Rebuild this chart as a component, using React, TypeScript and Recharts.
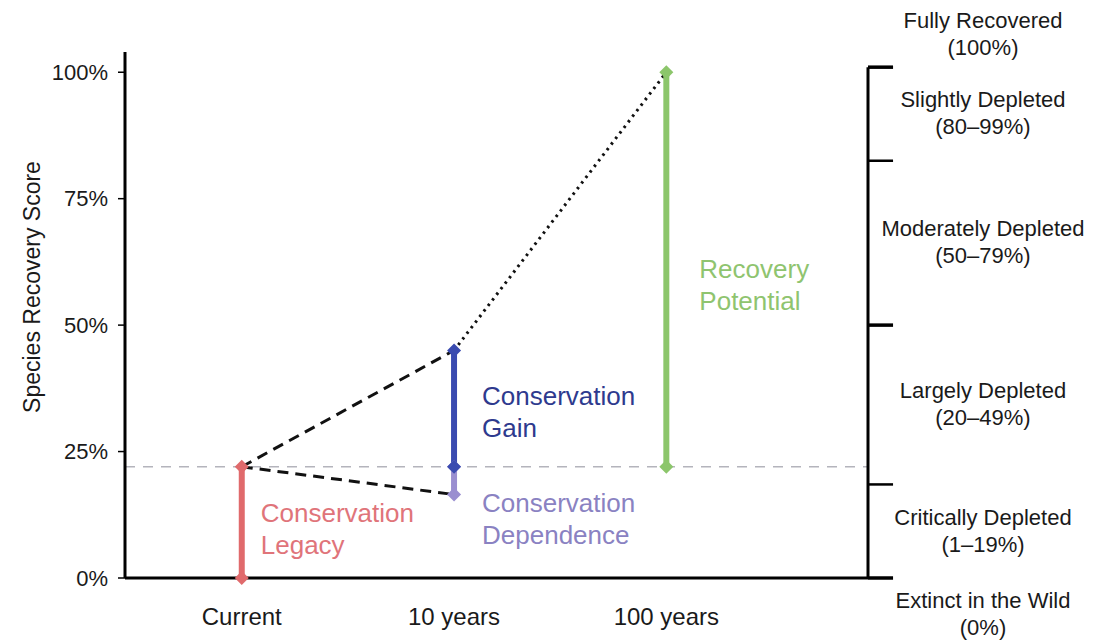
import React from 'react';
import { ComposedChart, Line, XAxis, YAxis, ReferenceLine, ReferenceDot } from 'recharts';

// stages on the time axis
const stages = ['Current', '10 years', '100 years'];
const stageX = [1, 2, 3];

// species recovery scores (%)
const scoreNow = 22;
const score10WithAction = 45;
const score10WithoutAction = 16.5;
const score100Potential = 100;

const leftTicks = [0, 25, 50, 75, 100];
const bandEdges = [0, 18.5, 50, 82.5, 101];
const bandNames = [
  ['Extinct in the Wild', '(0%)'],
  ['Critically Depleted', '(1–19%)'],
  ['Largely Depleted', '(20–49%)'],
  ['Moderately Depleted', '(50–79%)'],
  ['Slightly Depleted', '(80–99%)'],
  ['Fully Recovered', '(100%)'],
];

const xDomain = [0.45, 3.95];
const yDomain = [0, 104];
const FONT = '"Liberation Sans", Arial, sans-serif';

const RED = '#e06a6c';
const BLUE = '#3a4bb0';
const PURPLE = '#9a8fd0';
const GREEN = '#8cc66b';

// series built from the values above
const legacy = [{ x: stageX[0], y: 0 }, { x: stageX[0], y: scoreNow }];
const dependence = [{ x: stageX[1], y: scoreNow }, { x: stageX[1], y: score10WithoutAction }];
const gain = [{ x: stageX[1], y: scoreNow }, { x: stageX[1], y: score10WithAction }];
const potential = [{ x: stageX[2], y: scoreNow }, { x: stageX[2], y: score100Potential }];
const trendUp = [{ x: stageX[0], y: scoreNow }, { x: stageX[1], y: score10WithAction }];
const trendDown = [{ x: stageX[0], y: scoreNow }, { x: stageX[1], y: score10WithoutAction }];
const trendLong = [{ x: stageX[1], y: score10WithAction }, { x: stageX[2], y: score100Potential }];

const last = bandNames.length - 1;
const bandLabelY = bandNames.map((_, i) =>
  i === 0 ? bandEdges[0] - 7.3 : i === last ? bandEdges[bandEdges.length - 1] + 6.5 : (bandEdges[i - 1] + bandEdges[i]) / 2
);
// right-hand scale ticks stick out ~25px past the plot
const tickReach = 0.118;

const diamond = (color: string) => (p: any) => {
  const { cx, cy, index } = p;
  if (cx == null || cy == null) return <g key={index} />;
  const w = 7, h = 7;
  return (
    <polygon
      key={index}
      points={`${cx},${cy - h} ${cx + w},${cy} ${cx},${cy + h} ${cx - w},${cy}`}
      fill={color}
    />
  );
};

const Annot = (props: any) => {
  const vb = props.viewBox || {};
  const x = (vb.x ?? 0) + (vb.width ?? 0) / 2 + props.dx0;
  const y = (vb.y ?? 0) + (vb.height ?? 0) / 2 + props.dy0;
  return (
    <text x={x} fill={props.color} fontSize={26} fontFamily={FONT}>
      {props.lines.map((t: string, i: number) => (
        <tspan key={i} x={x} y={y + i * 32} dominantBaseline="central">{t}</tspan>
      ))}
    </text>
  );
};

const BandLabel = (props: any) => {
  const vb = props.viewBox || {};
  const x = vb.x + vb.width + 115;
  const y = vb.y;
  return (
    <text x={x} textAnchor="middle" fill="#1a1a1a" fontSize={22} fontFamily={FONT}>
      <tspan x={x} y={y - 14} dominantBaseline="central">{props.lines[0]}</tspan>
      <tspan x={x} y={y + 13} dominantBaseline="central">{props.lines[1]}</tspan>
    </text>
  );
};

const YTitle = (props: any) => {
  const vb = props.viewBox || {};
  const cx = vb.x + 32;
  const cy = vb.y + vb.height / 2 - 28;
  return (
    <text x={cx} y={cy} transform={`rotate(-90 ${cx} ${cy})`} textAnchor="middle" dominantBaseline="central"
      fill="#1a1a1a" fontSize={23} fontFamily={FONT}>
      Species Recovery Score
    </text>
  );
};

export default function App() {
  return (
    <div style={{ position: 'absolute', left: 0, top: 0, width: 1094, height: 641, background: '#fff' }}>
      <ComposedChart width={1094} height={641} margin={{ top: 52, right: 226, bottom: 0, left: 0 }}>
        <XAxis
          type="number"
          dataKey="x"
          domain={xDomain}
          ticks={stageX}
          tickFormatter={(v: number) => stages[v - 1]}
          axisLine={{ stroke: '#000', strokeWidth: 3 }}
          tickLine={false}
          tickSize={0}
          tickMargin={30}
          height={63}
          tick={{ fontSize: 24, fill: '#1a1a1a', fontFamily: FONT }}
        />
        <YAxis
          yAxisId="left"
          type="number"
          domain={yDomain}
          ticks={leftTicks}
          tickFormatter={(v: number) => `${v}%`}
          width={125}
          axisLine={{ stroke: '#000', strokeWidth: 3 }}
          tickLine={{ stroke: '#000', strokeWidth: 1.5 }}
          tickSize={7}
          tickMargin={10}
          tick={{ fontSize: 22, fill: '#1a1a1a', fontFamily: FONT }}
          label={<YTitle />}
        />

        <ReferenceLine yAxisId="left" y={scoreNow} stroke="#b4b4bc" strokeWidth={1.5} strokeDasharray="10 8" />
        <ReferenceLine
          yAxisId="left"
          segment={[{ x: xDomain[1], y: 0 }, { x: xDomain[1], y: bandEdges[bandEdges.length - 1] }]}
          stroke="#000"
          strokeWidth={3}
          ifOverflow="visible"
        />
        {bandEdges.map((v, i) => (
          <ReferenceLine
            key={`edge-${i}`}
            yAxisId="left"
            segment={[{ x: xDomain[1], y: v }, { x: xDomain[1] + tickReach, y: v }]}
            stroke="#000"
            strokeWidth={i % 2 === 0 ? 3.5 : 2.5}
            ifOverflow="visible"
          />
        ))}
        {bandNames.map((lines, i) => (
          <ReferenceLine
            key={lines[0]}
            yAxisId="left"
            y={bandLabelY[i]}
            stroke="none"
            ifOverflow="visible"
            label={<BandLabel lines={lines} />}
          />
        ))}

        <Line yAxisId="left" data={trendUp} dataKey="y" stroke="#111" strokeWidth={3} strokeDasharray="11 7" dot={false} isAnimationActive={false} legendType="none" />
        <Line yAxisId="left" data={trendDown} dataKey="y" stroke="#111" strokeWidth={3} strokeDasharray="11 7" dot={false} isAnimationActive={false} legendType="none" />
        <Line yAxisId="left" data={trendLong} dataKey="y" stroke="#111" strokeWidth={3} strokeDasharray="2.5 4.5" dot={false} isAnimationActive={false} legendType="none" />

        <Line yAxisId="left" data={legacy} dataKey="y" stroke={RED} strokeWidth={6} dot={diamond(RED)} isAnimationActive={false} legendType="none" />
        <Line yAxisId="left" data={dependence} dataKey="y" stroke={PURPLE} strokeWidth={6} dot={diamond(PURPLE)} isAnimationActive={false} legendType="none" />
        <Line yAxisId="left" data={gain} dataKey="y" stroke={BLUE} strokeWidth={6} dot={diamond(BLUE)} isAnimationActive={false} legendType="none" />
        <Line yAxisId="left" data={potential} dataKey="y" stroke={GREEN} strokeWidth={6} dot={diamond(GREEN)} isAnimationActive={false} legendType="none" />

        <ReferenceDot yAxisId="left" x={stageX[0]} y={0} r={0} stroke="none" fill="none" ifOverflow="visible"
          label={<Annot lines={['Conservation', 'Legacy']} color="#e0747a" dx0={19} dy0={-65} />} />
        <ReferenceDot yAxisId="left" x={stageX[1]} y={score10WithAction} r={0} stroke="none" fill="none" ifOverflow="visible"
          label={<Annot lines={['Conservation', 'Gain']} color="#2e3a8e" dx0={28} dy0={46} />} />
        <ReferenceDot yAxisId="left" x={stageX[1]} y={score10WithoutAction} r={0} stroke="none" fill="none" ifOverflow="visible"
          label={<Annot lines={['Conservation', 'Dependence']} color="#8a82c2" dx0={28} dy0={8} />} />
        <ReferenceDot yAxisId="left" x={stageX[2]} y={score100Potential} r={0} stroke="none" fill="none" ifOverflow="visible"
          label={<Annot lines={['Recovery', 'Potential']} color="#8fc46f" dx0={33} dy0={197} />} />
      </ComposedChart>
    </div>
  );
}
